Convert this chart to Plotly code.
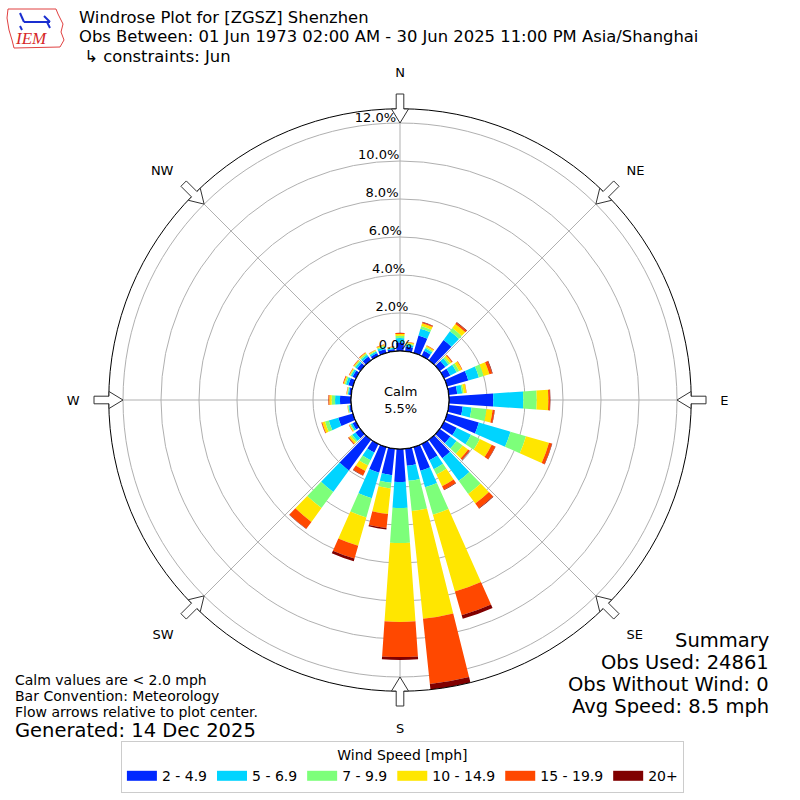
import math
import plotly.graph_objects as go

# wind direction bins (degrees, meteorological, 10 deg bins)
directions = list(range(0, 360, 10))

speed_labels = ["2 - 4.9", "5 - 6.9", "7 - 9.9", "10 - 14.9", "15 - 19.9", "20+"]
speed_colors = ["#0028ff", "#00d4ff", "#7dff7a", "#ffe600", "#ff4800", "#800000"]

# frequency [%] per direction bin for each speed class
spd_2_5 = [0.45, 0.25, 0.95, 0.30, 1.32, 0.37, 0.37, 1.16, 0.45, 2.33, 0.74, 1.74,
           0.74, 0.70, 1.21, 0.95, 1.30, 0.90, 1.74, 1.40, 1.40, 0.50, 2.00, 0.32,
           0.20, 0.80, 0.10, 0.58, 0.12, 0.25, 0.20, 0.22, 0.25, 0.17, 0.22, 0.12]
spd_5_7 = [0.23, 0.11, 0.37, 0.15, 0.57, 0.21, 0.37, 0.58, 0.26, 1.58, 0.47, 1.73,
           0.84, 0.40, 1.47, 0.52, 0.90, 0.80, 1.36, 0.40, 1.40, 0.45, 1.40, 0.21,
           0.10, 0.52, 0.05, 0.26, 0.06, 0.13, 0.10, 0.11, 0.12, 0.09, 0.11, 0.06]
spd_7_10 = [0.12, 0.06, 0.15, 0.08, 0.21, 0.10, 0.15, 0.26, 0.08, 0.71, 0.79, 0.85,
            0.52, 0.40, 0.85, 0.32, 1.50, 1.60, 1.85, 0.30, 1.05, 0.31, 1.05, 0.10,
            0.05, 0.21, 0.03, 0.18, 0.03, 0.07, 0.05, 0.06, 0.07, 0.05, 0.06, 0.03]
spd_10_15 = [0.10, 0.06, 0.16, 0.07, 0.27, 0.11, 0.16, 0.32, 0.14, 0.61, 0.32, 1.26,
             0.69, 0.35, 0.63, 0.68, 4.20, 5.70, 4.15, 1.35, 1.55, 0.32, 0.90, 0.11,
             0.05, 0.15, 0.02, 0.12, 0.03, 0.06, 0.04, 0.05, 0.06, 0.04, 0.05, 0.03]
spd_15_20 = [0.05, 0.03, 0.05, 0.03, 0.10, 0.05, 0.03, 0.15, 0.02, 0.09, 0.10, 0.16,
             0.21, 0.10, 0.31, 0.21, 1.30, 3.45, 1.85, 0.75, 0.70, 0.26, 0.45, 0.05,
             0.02, 0.04, 0.01, 0.05, 0.02, 0.04, 0.03, 0.03, 0.03, 0.02, 0.03, 0.02]
spd_20p = [0.01, 0.00, 0.02, 0.00, 0.03, 0.01, 0.00, 0.03, 0.00, 0.02, 0.02, 0.02,
           0.02, 0.02, 0.03, 0.02, 0.20, 0.30, 0.15, 0.07, 0.15, 0.02, 0.02, 0.01,
           0.00, 0.01, 0.00, 0.01, 0.00, 0.00, 0.00, 0.00, 0.00, 0.00, 0.00, 0.00]
speed_series = [spd_2_5, spd_5_7, spd_7_10, spd_10_15, spd_15_20, spd_20p]

rticks = [0, 2, 4, 6, 8, 10, 12]
compass_angles = [0, 45, 90, 135, 180, 225, 270, 315]
compass_labels = ["N", "NE", "E", "SE", "S", "SW", "W", "NW"]

calm_pct = 5.5
rmax = 12.75

# geometry of the polar area in pixels (800x800 page)
HOLE_PX = 49
PX_PER_PCT = 19
OUTER_PX = HOLE_PX + rmax * PX_PER_PCT
CX, CY = 400, 400
FONT = "DejaVu Sans"

fig = go.Figure()

for name, vals, col in zip(speed_labels, speed_series, speed_colors):
    fig.add_trace(go.Barpolar(
        r=vals, theta=directions, width=8, name=name, legendgroup=name,
        marker=dict(color=col, line=dict(width=0)), showlegend=False,
    ))

# legend entries drawn as wide swatches (empty line traces)
for name, col in zip(speed_labels, speed_colors):
    fig.add_trace(go.Scatterpolar(
        r=[None], theta=[None], mode="lines", name=name, legendgroup=name,
        line=dict(color=col, width=10), hoverinfo="skip",
    ))

# black circle round the calm hole
fig.add_trace(go.Scatterpolar(
    r=[0] * 361, theta=list(range(361)), mode="lines",
    line=dict(color="black", width=1.2), showlegend=False, hoverinfo="skip",
))

# radial tick labels, set just left of the north line
fig.add_trace(go.Scatterpolar(
    r=[v + 0.3 for v in rticks], theta=[355] * len(rticks), mode="text",
    text=["%.1f%%" % v for v in rticks], textfont=dict(size=13, color="black"),
    textposition="middle center", cliponaxis=False,
    showlegend=False, hoverinfo="skip",
))


def px_to_paper(x, y):
    return x / 800, 1 - y / 800


# hollow flow arrows on the compass points (tip on the 12% ring)
def arrow_path(theta0):
    pts = [(277, 0), (291, 8.5), (291, 3.8), (306, 3.8), (306, -3.8),
           (291, -3.8), (291, -8.5)]
    t = math.radians(theta0)
    out = []
    for a, b in pts:
        x = CX + a * math.sin(t) + b * math.cos(t)
        y = CY - a * math.cos(t) + b * math.sin(t)
        px, py = px_to_paper(x, y)
        out.append("%.5f,%.5f" % (px, py))
    return "M" + " L".join(out) + " Z"


for ang in compass_angles:
    fig.add_shape(type="path", path=arrow_path(ang), xref="paper", yref="paper",
                  fillcolor="white", line=dict(color="#333333", width=1))

# rough IEM logo: state outline and a wind barb
logo = [(8, 9), (56, 9), (58, 14), (63, 24), (61, 32), (64, 40), (60, 47),
        (14, 48), (12, 40), (9, 30), (7, 18)]
fig.add_shape(type="path", xref="paper", yref="paper",
              path="M" + " L".join("%.5f,%.5f" % px_to_paper(x, y) for x, y in logo) + " Z",
              line=dict(color="#e04040", width=1))
for (x0, y0, x1, y1) in [(24, 22, 50, 22), (24, 22, 20, 13), (50, 22, 44, 16),
                         (47, 22, 50, 28), (20, 26, 22, 30)]:
    a0, b0 = px_to_paper(x0, y0)
    a1, b1 = px_to_paper(x1, y1)
    fig.add_shape(type="line", xref="paper", yref="paper", x0=a0, y0=b0, x1=a1, y1=b1,
                  line=dict(color="#1a2fd0", width=2))

dom = [(400 - OUTER_PX) / 800, (400 + OUTER_PX) / 800]

fig.update_layout(
    width=800, height=800,
    margin=dict(l=0, r=0, t=0, b=0),
    paper_bgcolor="white",
    font=dict(family=FONT, size=13, color="black"),
    polar=dict(
        domain=dict(x=dom, y=dom),
        hole=HOLE_PX / OUTER_PX,
        bgcolor="white",
        barmode="stack",
        radialaxis=dict(
            range=[0, rmax], tickvals=rticks, showticklabels=False,
            showline=False, ticks="", gridcolor="#b0b0b0", gridwidth=1,
            angle=90,
        ),
        angularaxis=dict(
            rotation=90, direction="clockwise",
            tickvals=compass_angles, ticktext=compass_labels,
            gridcolor="#b0b0b0", linecolor="black", linewidth=1,
            ticks="outside", ticklen=26, tickcolor="rgba(0,0,0,0)",
            tickfont=dict(size=13),
        ),
    ),
    legend=dict(
        orientation="h", x=0.503, xanchor="center", y=1 - 741 / 800, yanchor="top",
        title=dict(text="Wind Speed [mph]", side="top center", font=dict(size=14)),
        bordercolor="#cccccc", borderwidth=1, font=dict(size=14),
        itemwidth=30, traceorder="normal", tracegroupgap=0,
    ),
    showlegend=True,
)


def txt(x, y, s, size=13, xanchor="left", **kw):
    fig.add_annotation(x=x / 800, y=1 - y / 800, xref="paper", yref="paper",
                       text=s, showarrow=False, xanchor=xanchor, yanchor="middle",
                       borderpad=0,
                       font=dict(size=size, family=kw.get("family", FONT),
                                 color=kw.get("color", "black")),
                       align=kw.get("align", "left"))


txt(78, 18, "Windrose Plot for [ZGSZ] Shenzhen", 16.4)
txt(78, 36.5, "Obs Between: 01 Jun 1973 02:00 AM - 30 Jun 2025 11:00 PM Asia/Shanghai", 16.4)
txt(78, 56, " ↳ constraints: Jun", 16.4)
txt(31, 39, "<i>IEM</i>", 17, xanchor="center", family="Liberation Serif", color="#d62728")

txt(400, 400, "Calm<br>%.1f%%" % calm_pct, 13, xanchor="center", align="center")

txt(14, 680, "Calm values are < 2.0 mph", 14)
txt(14, 696, "Bar Convention: Meteorology", 14)
txt(14, 712, "Flow arrows relative to plot center.", 14)
txt(14, 730, "Generated: 14 Dec 2025", 19.5)

txt(770, 640, "Summary", 19.5, xanchor="right")
txt(770, 662, "Obs Used: 24861", 19.5, xanchor="right")
txt(770, 684, "Obs Without Wind: 0", 19.5, xanchor="right")
txt(770, 706, "Avg Speed: 8.5 mph", 19.5, xanchor="right")

# the page body has a default margin; drop it so the 800x800 figure fills the window
fig.write_html("out.html", config={"displayModeBar": False},
               post_script="document.body.style.margin='0px';")
